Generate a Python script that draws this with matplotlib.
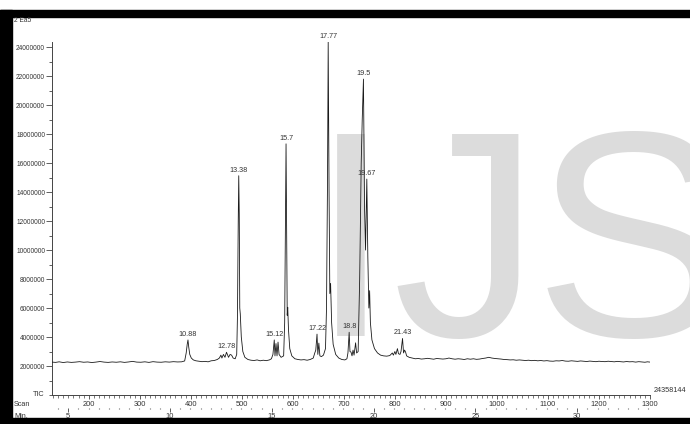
import numpy as np
import matplotlib
matplotlib.use("Agg")
import matplotlib.pyplot as plt
from matplotlib.patches import Rectangle
from matplotlib.ticker import MultipleLocator, FixedLocator

plt.rcParams['font.family'] = ['Liberation Sans', 'DejaVu Sans']

# ---- data (scan number, intensity in millions of counts) ----
scans = [128, 135, 142, 150, 158, 166, 174, 182, 190, 198, 206, 214, 222, 230, 238, 246,
         254, 262, 270, 278, 286, 294, 302, 310, 318, 326, 334, 342, 350, 358, 366, 374,
         382, 388, 391, 393, 394.5, 396, 398, 401, 405, 410, 416, 422, 428, 434, 440, 446,
         452, 456, 459, 461, 464, 467, 470, 474, 477, 480, 483, 487, 490, 491.5, 493, 494,
         495, 496, 497, 499, 502, 506, 512, 518, 524, 530, 536, 542, 548, 554, 558, 561,
         563.6, 565, 567, 569, 571, 573, 577, 582, 584, 585.5, 586.7, 588, 589, 590, 591.5,
         594, 598, 604, 610, 616, 622, 628, 634, 640, 643, 645, 647.4, 649, 651, 653, 656,
         660, 664, 666, 668, 669.3, 671, 672.5, 674, 676, 679, 684, 690, 696, 702, 706,
         708, 710.4, 712, 714, 716, 718, 720, 723, 725, 728, 731, 734, 736, 738.4, 740.5,
         742.5, 745, 747, 749, 750.5, 752, 755, 760, 766, 772, 778, 784, 790, 795, 797,
         800, 802, 805, 807, 810, 812, 815, 817, 819, 821, 823, 828, 834, 840, 846, 852,
         858, 864, 870, 876, 882, 888, 894, 900, 906, 912, 918, 924, 930, 936, 942, 948,
         954, 960, 966, 972, 978, 984, 990, 996, 1002, 1008, 1014, 1020, 1026, 1032, 1038,
         1044, 1050, 1056, 1062, 1068, 1074, 1080, 1086, 1092, 1098, 1104, 1110, 1116, 1122,
         1128, 1134, 1140, 1146, 1152, 1158, 1164, 1170, 1176, 1182, 1188, 1194, 1200, 1206,
         1212, 1218, 1224, 1230, 1236, 1242, 1248, 1254, 1260, 1266, 1272, 1278, 1284, 1290,
         1295, 1300]
tic_millions = [2.27, 2.25, 2.29, 2.24, 2.28, 2.25, 2.27, 2.30, 2.26, 2.28, 2.24, 2.27, 2.31, 2.27, 2.25, 2.28,
                2.26, 2.29, 2.25, 2.28, 2.32, 2.27, 2.26, 2.29, 2.25, 2.30, 2.27, 2.26, 2.29, 2.27, 2.30, 2.28,
                2.29, 2.35, 2.90, 3.50, 3.80, 3.30, 2.80, 2.55, 2.42, 2.36, 2.33, 2.30, 2.32, 2.29, 2.36, 2.38,
                2.45, 2.55, 2.75, 2.55, 2.80, 2.60, 2.95, 2.60, 2.80, 2.75, 2.55, 2.50, 2.80, 5.50, 12.0, 15.13,
                12.5, 6.00, 5.60, 4.00, 3.00, 2.60, 2.45, 2.40, 2.38, 2.42, 2.36, 2.40, 2.37, 2.42, 2.50, 2.80,
                3.80, 2.70, 3.55, 2.70, 3.65, 2.80, 2.60, 2.70, 5.00, 12.0, 17.33, 11.0, 5.50, 6.05, 4.50,
                3.20, 2.70, 2.50, 2.45, 2.42, 2.44, 2.40, 2.45, 2.55, 2.90, 3.10, 4.20, 2.80, 3.58, 2.70, 2.65,
                2.75, 3.20, 6.00, 15.0, 24.358144, 14.0, 7.00, 7.70, 5.00, 3.50, 2.80, 2.55, 2.45, 2.42, 2.50,
                2.90, 4.33, 3.00, 2.96, 2.70, 3.10, 2.75, 3.60, 2.90, 3.00, 8.00, 16.0, 19.0, 21.8, 13.0,
                10.0, 14.9, 9.50, 6.00, 7.20, 5.00, 3.80, 3.20, 2.90, 2.75, 2.70, 2.68, 2.72, 2.90, 2.75,
                3.00, 2.80, 3.20, 2.85, 2.80, 3.00, 3.90, 2.90, 3.10, 2.96, 2.70, 2.60, 2.55, 2.50, 2.52, 2.48,
                2.50, 2.53, 2.50, 2.47, 2.52, 2.50, 2.48, 2.50, 2.55, 2.50, 2.47, 2.50, 2.48, 2.45, 2.50, 2.47,
                2.50, 2.46, 2.48, 2.52, 2.55, 2.60, 2.55, 2.52, 2.50, 2.48, 2.45, 2.44, 2.42, 2.43, 2.40,
                2.42, 2.40, 2.38, 2.40, 2.37, 2.39, 2.36, 2.38, 2.35, 2.37, 2.34, 2.33, 2.36, 2.35,
                2.38, 2.34, 2.33, 2.36, 2.34, 2.32, 2.35, 2.33, 2.31, 2.34, 2.32, 2.30, 2.33, 2.31,
                2.30, 2.33, 2.31, 2.29, 2.32, 2.30, 2.28, 2.31, 2.29, 2.30, 2.27, 2.30, 2.28, 2.26,
                2.29, 2.27]

# labelled peaks: (label in minutes, scan of apex)
peak_labels = ["10.88", "12.78", "13.38", "15.12", "15.7", "17.22", "17.77", "18.8", "19.5", "19.67", "21.43"]
peak_scans = [394.5, 470, 494, 563.6, 586.7, 647.4, 669.3, 710.4, 738.4, 745, 815]

y_ticks = [2000000, 4000000, 6000000, 8000000, 10000000, 12000000, 14000000, 16000000,
           18000000, 20000000, 22000000, 24000000]
scan_ticks = [200, 300, 400, 500, 600, 700, 800, 900, 1000, 1100, 1200, 1300]
min_ticks = [5, 10, 15, 20, 25, 30]
max_counts = 24358144
watermark_letters = ["I", "J", "S"]

x = np.array(scans, dtype=float)
y = np.array(tic_millions) * 1e6

W, H = 690, 424
fig = plt.figure(figsize=(W / 100, H / 100), dpi=100)

def fx(px):
    return px / W

def fy(py):
    return 1 - py / H

# frame bands
fig.patches.append(Rectangle((0, fy(17)), 1, fy(10) - fy(17), transform=fig.transFigure,
                             color='black', zorder=-5))
fig.patches.append(Rectangle((0, 0), fx(12), fy(10), transform=fig.transFigure,
                             color='black', zorder=-5))
fig.patches.append(Rectangle((0, 0), 1, fy(418), transform=fig.transFigure,
                             color='black', zorder=-5))

ax = fig.add_axes([fx(52), fy(395), fx(650) - fx(52), fy(42) - fy(395)])
ax.set_facecolor('none')

# watermark, one letter at a time (origins in pixels)
for letter, ox in zip(watermark_letters, [310, 392, 534]):
    ax.text(fx(ox), fy(336), letter, transform=fig.transFigure, fontsize=212,
            color='#dcdcdc', ha='left', va='baseline', zorder=0, clip_on=False,
            family='Liberation Sans')

ax.plot(x, y, color='#1a1a1a', lw=0.6, zorder=3)
ax.plot([x[-1], x[-1]], [y[-1], 0], color='#555555', lw=0.6, ls=(0, (1, 1.5)), zorder=3)

ax.set_xlim(128, 1300)
ax.set_ylim(0, max_counts)

for lab, s in zip(peak_labels, peak_scans):
    h = np.interp(s, x, y)
    ax.annotate(lab, xy=(s, h), xytext=(0, 1.5), textcoords='offset points',
                ha='center', va='bottom', fontsize=5.2, color='#333333',
                zorder=4, annotation_clip=False)

for side in ['top', 'right']:
    ax.spines[side].set_visible(False)
for side in ['left', 'bottom']:
    ax.spines[side].set_linewidth(0.7)
    ax.spines[side].set_color('#444444')

ax.yaxis.set_major_locator(FixedLocator(y_ticks))
ax.yaxis.set_minor_locator(MultipleLocator(1000000))
ax.set_yticklabels([str(v) for v in y_ticks])
ax.tick_params(axis='y', which='major', length=4, width=0.6, pad=1, labelsize=4.7,
               color='#444444', labelcolor='#333333')
ax.tick_params(axis='y', which='minor', length=2, width=0.6, color='#444444')

ax.xaxis.set_major_locator(FixedLocator(scan_ticks))
ax.xaxis.set_minor_locator(MultipleLocator(10))
ax.set_xticklabels([str(v) for v in scan_ticks])
ax.tick_params(axis='x', which='major', length=3, width=0.6, pad=1.2, labelsize=5.4,
               color='#444444', labelcolor='#333333')
ax.tick_params(axis='x', which='minor', length=2, width=0.5, color='#444444')

def scan2min(s):
    return (np.asarray(s) + 39.7) / 39.9

def min2scan(m):
    return np.asarray(m) * 39.9 - 39.7

sec = ax.secondary_xaxis((395 - 408) / (395 - 42), functions=(scan2min, min2scan))
sec.spines['bottom'].set_visible(False)
sec.xaxis.set_major_locator(FixedLocator(min_ticks))
sec.xaxis.set_minor_locator(MultipleLocator(0.5))
sec.set_xticklabels([str(v) for v in min_ticks])
sec.tick_params(axis='x', which='major', length=3, width=0.6, pad=0.3, labelsize=5.4,
                color='#444444', labelcolor='#333333')
sec.tick_params(axis='x', which='minor', length=1, width=0.8, color='#666666')

fig.text(fx(14), fy(21), "2 Ea5", fontsize=4.8, color='#333333', ha='left', va='center')
fig.text(fx(33), fy(395), "TIC", fontsize=5.2, color='#333333', ha='left', va='center')
fig.text(fx(14), fy(404), "Scan", fontsize=5.2, color='#333333', ha='left', va='center')
fig.text(fx(14), fy(416), "Min.", fontsize=5.2, color='#333333', ha='left', va='center')
fig.text(fx(654), fy(391), str(max_counts), fontsize=5.2, color='#333333', ha='left', va='center')

fig.savefig("out.png", dpi=100)
